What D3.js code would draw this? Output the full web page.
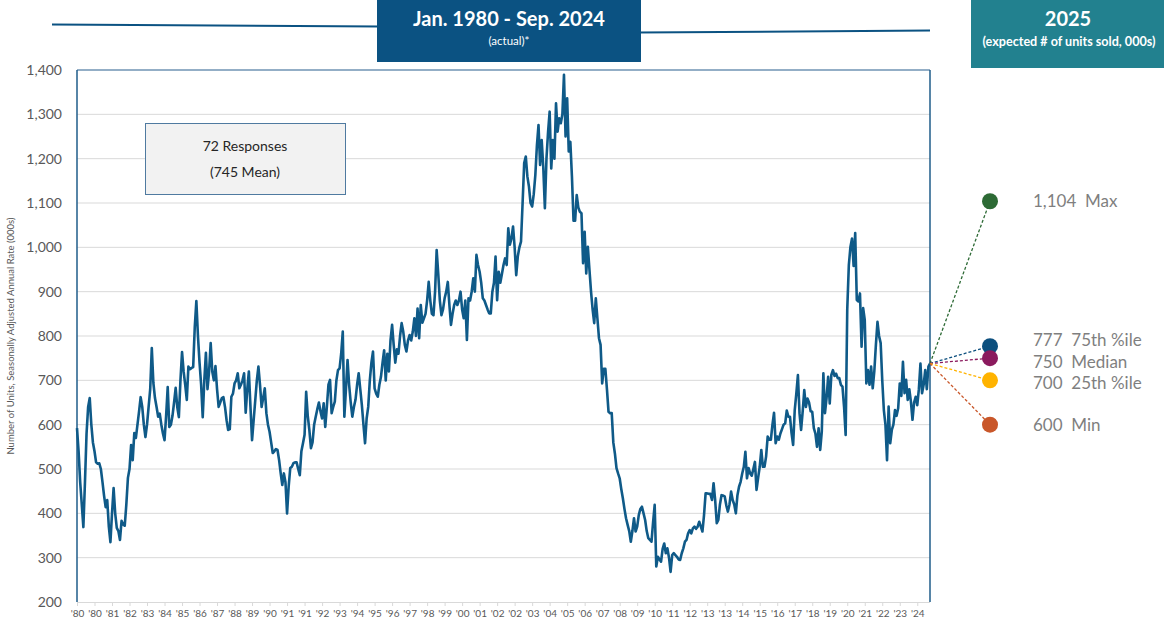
<!DOCTYPE html>
<html><head><meta charset="utf-8">
<script src="https://cdn.jsdelivr.net/npm/d3@7/dist/d3.min.js"></script>
<style>
html,body{margin:0;padding:0;background:#fff;}
svg{display:block;font-family:Lato,"Open Sans",sans-serif;}
</style></head><body>
<svg id="chart" width="1164" height="621"></svg>
<script>
// ---------- DATA ----------
const startYear = 1980;          // first month: Jan 1980
const sales1980 = [592,540,470,420,369,470,580,640,660,600,560,540];
const sales1981 = [515,512,513,500,471,440,414,430,370,335,400,457];
const sales1982 = [400,367,360,340,383,375,372,420,480,500,554,520];
const sales1983 = [581,570,600,630,662,640,600,572,600,640,680,773];
const sales1984 = [694,660,640,618,625,600,580,565,620,685,595,600];
const sales1985 = [620,650,683,640,617,700,764,720,690,656,731,725];
const sales1986 = [728,730,820,879,800,740,690,617,700,762,680,720];
const sales1987 = [784,720,700,732,680,640,650,660,662,640,610,588];
const sales1988 = [590,663,670,693,700,716,682,690,700,716,627,680];
const sales1989 = [720,640,565,610,654,700,731,690,640,660,682,626];
const sales1990 = [600,584,560,536,540,545,543,520,490,464,490,470];
const sales1991 = [400,460,502,505,513,515,515,500,486,540,558,577];
const sales1992 = [674,620,588,547,560,600,618,635,650,630,614,648];
const sales1993 = [595,640,690,701,626,640,652,700,723,727,760,810];
const sales1994 = [618,680,746,690,650,618,640,656,690,716,680,644];
const sales1995 = [600,558,614,640,700,740,765,682,670,663,690,708];
const sales1996 = [740,768,700,760,720,790,825,780,740,770,760,800];
const sales1997 = [829,810,780,765,790,802,790,810,840,800,862,795];
const sales1998 = [870,830,840,850,880,922,880,850,847,900,994,940];
const sales1999 = [880,847,860,885,900,922,870,825,850,870,880,870];
const sales2000 = [880,900,860,840,880,791,885,880,900,930,900,983];
const sales2001 = [960,945,920,885,880,870,860,851,851,900,920,979];
const sales2002 = [881,945,920,940,960,975,960,1043,1006,1020,1047,1000];
const sales2003 = [937,980,1000,1013,1100,1190,1205,1160,1137,1100,1092,1120];
const sales2004 = [1163,1230,1276,1186,1242,1180,1088,1200,1260,1306,1178,1242];
const sales2005 = [1200,1325,1261,1291,1280,1300,1389,1250,1336,1216,1238,1160];
const sales2006 = [1060,1060,1118,1090,1080,1077,964,1035,941,1001,950,900];
const sales2007 = [860,829,885,840,795,780,693,726,726,680,629,626];
const sales2008 = [626,560,535,502,490,479,455,434,410,389,374,360];
const sales2009 = [336,360,389,359,370,396,410,415,400,385,360,344];
const sales2010 = [340,336,380,419,280,302,296,291,320,332,310,321];
const sales2011 = [300,268,306,310,306,302,296,295,310,321,336,340];
const sales2012 = [355,362,355,366,370,365,370,381,370,359,396,445];
const sales2013 = [445,444,444,430,468,430,378,385,420,441,440,438];
const sales2014 = [418,404,420,449,430,420,400,441,460,471,490,505];
const sales2015 = [539,479,502,490,485,500,516,453,480,505,543,505];
const sales2016 = [505,528,573,566,566,600,627,558,573,566,580,590];
const sales2017 = [600,603,632,618,618,581,554,633,670,712,626,588];
const sales2018 = [630,678,640,659,650,630,629,592,580,550,592,543];
const sales2019 = [584,716,626,660,708,648,712,723,710,715,705,705];
const sales2020 = [690,686,640,577,860,960,1001,1020,958,1032,881,878];
const sales2021 = [896,776,863,836,693,723,690,731,682,720,780,832];
const sales2022 = [800,784,700,633,600,520,641,558,588,600,633,620];
const sales2023 = [637,693,665,742,671,701,656,680,652,611,650,663];
const sales2024 = [644,680,738,671,690,723,680,731,738];

const xTickLabels = ["'80","'80","'81","'82","'83","'84","'85","'86","'87","'88","'89","'90","'91","'91","'92","'93","'94","'95","'96","'97","'98","'99","'00","'01","'02","'02","'03","'04","'05","'06","'07","'08","'09","'10","'11","'12","'13","'13","'14","'15","'16","'17","'18","'19","'20","'21","'22","'23","'24"];
const xTickStep = 11; // months between labels
const yTicks = [200,300,400,500,600,700,800,900,1000,1100,1200,1300,1400];

const forecastLabels = ["Max","75th %ile","Median","25th %ile","Min"];
const forecastValues = [1104,777,750,700,600];
const forecastColors = ["#2d6a35","#0c4f7e","#8b1a5e","#ffb300","#c9572a"];

const responses = 72, meanForecast = 745;

// ---------- BUILD ----------
const sales = [].concat(sales1980,sales1981,sales1982,sales1983,sales1984,sales1985,sales1986,sales1987,
  sales1988,sales1989,sales1990,sales1991,sales1992,sales1993,sales1994,sales1995,sales1996,sales1997,
  sales1998,sales1999,sales2000,sales2001,sales2002,sales2003,sales2004,sales2005,sales2006,sales2007,
  sales2008,sales2009,sales2010,sales2011,sales2012,sales2013,sales2014,sales2015,sales2016,sales2017,
  sales2018,sales2019,sales2020,sales2021,sales2022,sales2023,sales2024);

const svg = d3.select("#chart");
const L = 77, R = 930, T = 70, B = 602;
const x = d3.scaleLinear().domain([0, sales.length - 1]).range([L, R]);
const y = d3.scaleLinear().domain([200, 1400]).range([B, T]);
const navy = "#0b5282";

// header lines
svg.append("line").attr("x1",52).attr("y1",24.5).attr("x2",380).attr("y2",26.5)
  .attr("stroke",navy).attr("stroke-width",2);
svg.append("line").attr("x1",638).attr("y1",32.5).attr("x2",930).attr("y2",30.5)
  .attr("stroke",navy).attr("stroke-width",2);
// header boxes
svg.append("rect").attr("x",377).attr("y",0).attr("width",264).attr("height",62).attr("fill",navy);
svg.append("text").attr("x",509).attr("y",26).attr("text-anchor","middle").attr("fill","#fff")
  .attr("font-size",20).attr("font-weight","bold").text("Jan. 1980 - Sep. 2024");
svg.append("text").attr("x",509).attr("y",45).attr("text-anchor","middle").attr("fill","#fff")
  .attr("font-size",11.5).text("(actual)*");
svg.append("rect").attr("x",971).attr("y",0).attr("width",193).attr("height",68).attr("fill","#22818f");
svg.append("text").attr("x",1068).attr("y",26).attr("text-anchor","middle").attr("fill","#fff")
  .attr("font-size",20).attr("font-weight","bold").text("2025");
svg.append("text").attr("x",1069).attr("y",46).attr("text-anchor","middle").attr("fill","#fff")
  .attr("font-size",12.6).attr("font-weight","bold").text("(expected # of units sold, 000s)");

// gridlines
svg.append("g").selectAll("line").data(yTicks.filter(d => d > 200 && d < 1400)).join("line")
  .attr("x1",L).attr("x2",R).attr("y1",d=>y(d)).attr("y2",d=>y(d))
  .attr("stroke","#d9d9d9").attr("stroke-width",1);

// y axis labels
const yAxis = d3.axisLeft(y).tickValues(yTicks).tickSize(0).tickPadding(0).tickFormat(d3.format(","));
const yg = svg.append("g").attr("transform",`translate(${62},0)`).call(yAxis);
yg.select(".domain").remove();
yg.selectAll("text").attr("font-size",14).attr("fill","#595959").attr("font-family","Lato,sans-serif");

// x axis
const xTickIdx = xTickLabels.map((_, k) => k * xTickStep);
const xAxis = d3.axisBottom(x).tickValues(xTickIdx).tickSize(4).tickPadding(4)
  .tickFormat((d, k) => xTickLabels[k]);
const xg = svg.append("g").attr("transform",`translate(0,${B})`).call(xAxis);
xg.select(".domain").attr("stroke","#d9d9d9").attr("d",`M${L},0.5H${R}`);
xg.selectAll(".tick line").attr("stroke","#d9d9d9");
xg.selectAll("text").attr("font-size",10).attr("fill","#595959").attr("font-family","Lato,sans-serif");

// frame
svg.append("line").attr("x1",L).attr("x2",R).attr("y1",T).attr("y2",T).attr("stroke","#6f93b3").attr("stroke-width",1.5);
svg.append("line").attr("x1",L).attr("x2",L).attr("y1",T).attr("y2",B).attr("stroke","#1f5d8a").attr("stroke-width",1.5);
svg.append("line").attr("x1",R).attr("x2",R).attr("y1",T).attr("y2",B).attr("stroke","#1f5d8a").attr("stroke-width",1.5);

// y axis title
svg.append("text").attr("transform",`translate(14,${336}) rotate(-90)`).attr("text-anchor","middle")
  .attr("font-size",9.5).attr("fill","#595959").text("Number of Units, Seasonally Adjusted Annual Rate (000s)");

// response box
svg.append("rect").attr("x",145.5).attr("y",123.5).attr("width",200).attr("height",71)
  .attr("fill","#f2f2f2").attr("stroke","#4f7aa0").attr("stroke-width",1);
svg.append("text").attr("x",245).attr("y",151).attr("text-anchor","middle").attr("font-size",14)
  .attr("fill","#262626").text(`${responses} Responses`);
svg.append("text").attr("x",245).attr("y",177).attr("text-anchor","middle").attr("font-size",14)
  .attr("fill","#262626").text(`(${meanForecast} Mean)`);

// series line
const line = d3.line().x((d,i)=>x(i)).y(d=>y(d)).curve(d3.curveLinear);
svg.append("path").datum(sales).attr("d",line).attr("fill","none")
  .attr("stroke","#0f5a88").attr("stroke-width",2.6).attr("stroke-linejoin","round");

// forecast dashed connectors and markers
const x0 = x(sales.length - 1), y0 = y(sales[sales.length - 1]);
const mx = 990;
const fc = forecastValues.map((v,k)=>({v, label:forecastLabels[k], color:forecastColors[k], cy:y(v)}));
svg.append("g").selectAll("line").data(fc).join("line")
  .attr("x1",x0).attr("y1",y0).attr("x2",mx).attr("y2",d=>d.cy)
  .attr("stroke",d=>d.color).attr("stroke-width",1.3).attr("stroke-dasharray","3,2");
svg.append("g").selectAll("circle").data(fc).join("circle")
  .attr("cx",mx).attr("cy",d=>d.cy).attr("r",8).attr("fill",d=>d.color);

// label placement with simple overlap relaxation
const sorted = fc.slice().sort((a,b)=>a.cy-b.cy);
const gap = 21.5;
let clusters = sorted.map(d=>({items:[d], center:d.cy}));
let merged = true;
while (merged) {
  merged = false;
  for (let k=0;k<clusters.length-1;k++){
    const a=clusters[k], b=clusters[k+1];
    const aEnd = a.center + (a.items.length-1)*gap/2;
    const bStart = b.center - (b.items.length-1)*gap/2;
    if (bStart - aEnd < gap) {
      const items = a.items.concat(b.items);
      const center = d3.mean(items, d=>d.cy);
      clusters.splice(k,2,{items,center}); merged = true; break;
    }
  }
}
clusters.forEach(c=>c.items.forEach((d,k)=>{ d.ly = c.center + (k-(c.items.length-1)/2)*gap; }));
svg.append("g").selectAll("text").data(fc).join("text")
  .attr("x",1033).attr("y",d=>d.ly).attr("dy","0.35em").attr("font-size",17).attr("fill","#7f7f7f")
  .style("white-space","pre").text(d=>`${d3.format(",")(d.v)}  ${d.label}`);
</script>
</body></html>
